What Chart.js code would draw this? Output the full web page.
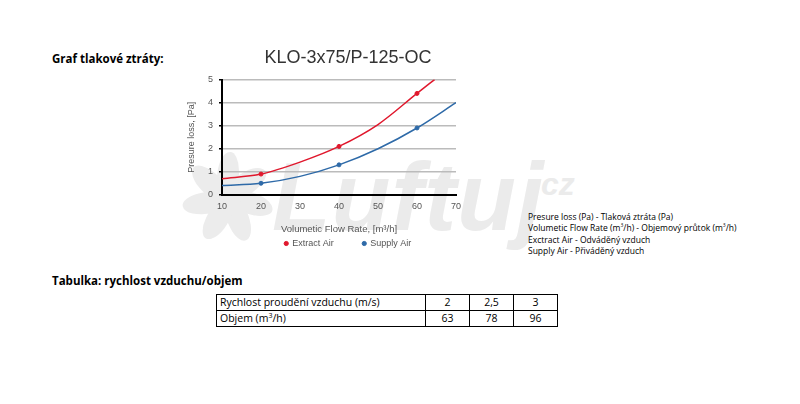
<!DOCTYPE html>
<html lang="cs">
<head>
  <meta charset="UTF-8">
  <title>KLO-3x75/P-125-OC</title>
  <script src="https://cdn.jsdelivr.net/npm/chart.js"></script>
  <style>
    body { margin: 0; width: 800px; height: 404px; background: #fff; position: relative; overflow: hidden; font-family: "Open Sans", sans-serif; color: #000; }
    .head { position: absolute; left: 52px; font-weight: bold; font-size: 11.5px; }
    #wm { position: absolute; left: 272px; top: 142px; font: italic bold 96px "Liberation Sans", Arial, sans-serif; color: #ebebeb; letter-spacing: 1px; white-space: nowrap; }
    #wmcz { position: absolute; left: 532px; top: 166px; font: italic bold 32px "Liberation Sans", Arial, sans-serif; color: #ebebeb; }
    .blade { position: absolute; width: 22px; height: 46px; border-radius: 60% 40% 40% 40%; background: #ececec; left: 217px; top: 152px; transform-origin: 11px 46px; }
    #box { position: absolute; left: 180px; top: 40px; width: 336px; height: 218px; }
    .notes { position: absolute; left: 528px; top: 211px; font-size: 8.5px; line-height: 11.3px; }
    .notes sup { font-size: 5px; line-height: 0; vertical-align: 4px; }
    table { position: absolute; left: 216px; top: 294px; border-collapse: collapse; font-size: 10.5px; }
    td { border: 1.5px solid #000; height: 15px; padding: 0 3px; line-height: 15px; }
    td.n { text-align: center; width: 37px; }
  </style>
</head>
<body>
  <div class="blade" style="transform: rotate(0deg)"></div>
  <div class="blade" style="transform: rotate(51deg)"></div>
  <div class="blade" style="transform: rotate(103deg)"></div>
  <div class="blade" style="transform: rotate(154deg)"></div>
  <div class="blade" style="transform: rotate(206deg)"></div>
  <div class="blade" style="transform: rotate(257deg)"></div>
  <div class="blade" style="transform: rotate(309deg)"></div>
  <div id="wm">Luftuj</div>
  <div id="wmcz">.cz</div>
  <div class="head" style="top:51px">Graf tlakové ztráty:</div>
  <div id="box"><canvas id="chart"></canvas></div>
  <div class="notes">
    Presure loss (Pa) - Tlaková ztráta (Pa)<br>
    Volumetic Flow Rate (m<sup>3</sup>/h) - Objemový průtok (m<sup>3</sup>/h)<br>
    Exctract Air - Odváděný vzduch<br>
    Supply Air - Přiváděný vzduch
  </div>
  <div class="head" style="top:273px">Tabulka: rychlost vzduchu/objem</div>
  <table>
    <tr><td style="width:202px">Rychlost proudění vzduchu (m/s)</td><td class="n">2</td><td class="n">2,5</td><td class="n">3</td></tr>
    <tr><td>Objem (m<sup style="font-size:7px;line-height:0">3</sup>/h)</td><td class="n">63</td><td class="n">78</td><td class="n">96</td></tr>
  </table>

  <script>
    // measured points (markers)
    const flowPts = [20, 40, 60];
    const extractPts = [0.9, 2.1, 4.4];
    const supplyPts = [0.5, 1.3, 2.9];

    // trend curves
    const extractCurveX = [10, 20, 30, 40, 50, 60, 64.5];
    const extractCurveY = [0.7, 0.9, 1.42, 2.1, 3.05, 4.4, 5.0];
    const supplyCurveX = [10, 20, 30, 40, 50, 60, 70];
    const supplyCurveY = [0.4, 0.5, 0.8, 1.3, 2.0, 2.9, 4.0];

    const xTicks = [10, 20, 30, 40, 50, 60, 70];
    const yTicks = [0, 1, 2, 3, 4, 5];

    const red = '#e0182d';
    const blue = '#2e6aa8';
    const axisFont = { family: 'Liberation Sans', size: 9 };
    const toXY = (xs, ys) => xs.map((x, i) => ({ x: x, y: ys[i] }));

    new Chart(document.getElementById('chart'), {
      type: 'scatter',
      data: {
        datasets: [
          { label: 'Extract Air', data: toXY(flowPts, extractPts), backgroundColor: red, borderColor: red, pointRadius: 2, showLine: false },
          { label: 'Supply Air', data: toXY(flowPts, supplyPts), backgroundColor: blue, borderColor: blue, pointRadius: 2, showLine: false },
          { label: 'ext-curve', data: toXY(extractCurveX, extractCurveY), borderColor: red, borderWidth: 1.5, pointRadius: 0, showLine: true, cubicInterpolationMode: 'monotone' },
          { label: 'sup-curve', data: toXY(supplyCurveX, supplyCurveY), borderColor: blue, borderWidth: 1.5, pointRadius: 0, showLine: true, cubicInterpolationMode: 'monotone' }
        ]
      },
      options: {
        responsive: true,
        maintainAspectRatio: false,
        animation: false,
        layout: { padding: 0 },
        plugins: {
          title: {
            display: true,
            text: 'KLO-3x75/P-125-OC',
            color: '#333',
            font: { family: 'Liberation Sans', size: 18, weight: 'normal' },
            padding: { top: 7, bottom: 11 }
          },
          legend: {
            position: 'bottom',
            labels: {
              generateLabels: chart => Chart.defaults.plugins.legend.labels.generateLabels(chart)
                .filter(item => item.datasetIndex < 2)
                .map(item => { if (item.datasetIndex === 0) item.text += '\u00a0'.repeat(10); return item; }),
              usePointStyle: true,
              pointStyle: 'circle',
              boxWidth: 3,
              boxHeight: 3,
              color: '#555',
              padding: 4,
              font: axisFont
            }
          },
          tooltip: { enabled: false }
        },
        scales: {
          x: {
            type: 'linear',
            min: 10, max: 70,
            afterBuildTicks: s => { s.ticks = xTicks.map(v => ({ value: v })); },
            grid: { display: false, drawTicks: true, tickLength: 3, tickColor: '#000' },
            border: { color: '#000', width: 2 },
            ticks: { color: '#555', font: axisFont, padding: 3 },
            title: { display: true, text: 'Volumetic Flow Rate, [m³/h]', color: '#555', font: { family: 'Liberation Sans', size: 9.5 }, padding: { top: 9, bottom: 0 } }
          },
          y: {
            min: 0, max: 5,
            afterBuildTicks: s => { s.ticks = yTicks.map(v => ({ value: v })); },
            afterFit: s => { s.width = 42; },
            grid: { color: '#bbb', lineWidth: 1.5, tickLength: 3, tickColor: '#000' },
            border: { color: '#000', width: 2 },
            ticks: { color: '#555', font: axisFont, padding: 6 },
            title: { display: true, text: 'Presure loss, [Pa]', color: '#555', font: { family: 'Liberation Sans', size: 9 }, padding: { top: 6, bottom: 0 } }
          },
          // empty right-hand axis: keeps the plot narrow while title and legend centre on the whole box
          yRight: {
            position: 'right',
            min: 0, max: 5,
            afterFit: s => { s.width = 60; },
            grid: { display: false },
            border: { display: false },
            ticks: { display: false }
          }
        }
      }
    });
  </script>
</body>
</html>
